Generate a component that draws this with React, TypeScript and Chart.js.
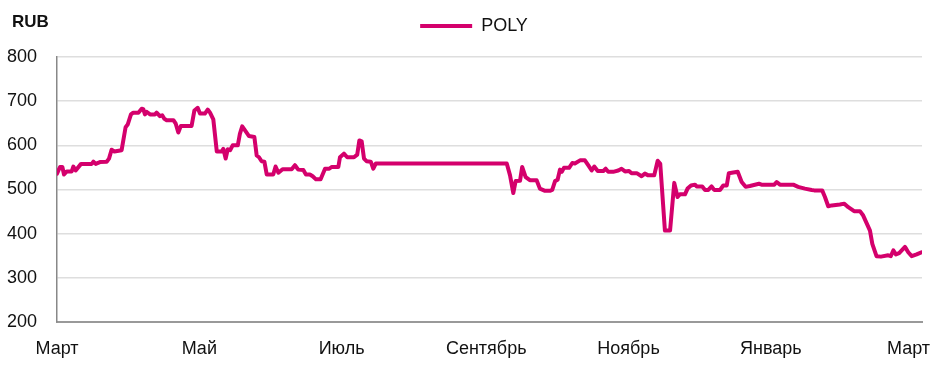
import React, { useEffect, useRef } from "react";
import { Chart, registerables } from "chart.js";

Chart.register(...registerables);

// days since 1 March
const days = [
  0, 1.3, 2.3, 3.0, 4.2, 6.3, 7.0, 8.0, 10.3, 14.9, 15.6, 16.6, 18.4, 21.3, 22.3, 23.4, 24.6, 27.7,
  29.4, 30.3, 31.7, 32.7, 34.9, 36.3, 37.0, 37.7, 38.4, 39.9, 42.0, 42.7, 44.1, 45.1, 46.0, 47.0,
  49.9, 50.9, 52.0, 53.1, 57.7, 58.9, 60.3, 61.3, 63.4, 64.6, 65.6, 67.0, 68.5, 70.6, 71.3, 72.3,
  73.2, 74.2, 75.3, 77.5, 78.4, 79.4, 80.6, 82.3, 84.6, 85.6, 86.6, 87.7, 88.9, 89.9, 92.7, 93.7,
  94.9, 96.7, 100.6, 102.0, 103.4, 105.6, 106.7, 108.4, 109.6, 111.0, 113.0, 114.9, 116.7, 117.7,
  120.6, 121.3, 123.0, 124.4, 127.3, 128.7, 129.6, 130.6, 131.6, 132.7, 134.5, 135.6, 136.7,
  192.8, 194.2, 195.6, 196.6, 198.5, 199.4, 200.9, 202.7, 205.6, 207.0, 209.2, 211.3, 212.3, 213.5,
  214.6, 215.6, 216.4, 217.3, 219.5, 220.9, 222.0, 224.2, 226.3, 227.7, 229.2, 230.3, 231.8, 234.2,
  235.2, 236.3, 238.4, 240.6, 242.0, 243.5, 245.2, 246.3, 248.5, 250.6, 252.0, 253.4, 256.0, 257.5,
  258.6, 260.6, 262.8, 264.6, 266.0, 267.0, 269.2, 270.3, 271.8, 273.5, 274.2, 276.6, 277.8, 279.2,
  280.6, 281.7, 284.2, 285.6, 287.1, 288.0, 291.8, 293.5, 295.2, 297.0, 300.9, 302.0, 307.5, 308.5,
  309.9, 315.6, 317.7, 320.6, 323.5, 324.6, 328.0, 329.2, 330.6, 332.1, 335.6, 337.5, 339.2, 341.7,
  344.2, 345.6, 348.5, 349.5, 351.3, 353.2, 356.3, 357.4, 358.5, 359.6, 361.0, 363.5, 364.9, 366.4,
  368.5, 370.6,
];

const prices = [
  536, 551, 551, 534, 541, 541, 552, 543, 558, 558, 563, 558, 562, 563, 570, 590, 586, 589,
  641, 647, 670, 674, 674, 683, 682, 670, 676, 670, 670, 674, 666, 668, 660, 657,
  657, 649, 629, 644, 644, 679, 685, 672, 672, 681, 674, 659, 586, 586, 592, 570,
  591, 589, 600, 600, 626, 643, 634, 621, 619, 577, 573, 564, 563, 534, 534, 552,
  538, 546, 546, 555, 545, 544, 534, 534, 530, 523, 523, 547, 547, 551,
  551, 573, 581, 573, 573, 579, 611, 609, 570, 564, 563, 547, 559,
  559, 532, 492, 519, 520, 551, 528, 521, 521, 502, 497, 497, 499, 519,
  522, 545, 540, 549, 549, 560, 559, 566, 566, 555, 543, 552, 542, 542,
  547, 540, 540, 543, 547, 541, 542, 537, 537, 530, 536, 532, 532, 565,
  558, 407, 407, 515, 483, 489, 489, 502, 509, 511, 507, 507, 499, 499,
  507, 499, 499, 509, 509, 537, 540, 517, 506, 508, 513, 511, 511, 517,
  511, 511, 506, 502, 499, 498, 498, 483, 462, 464, 466, 468, 460, 451,
  451, 441, 407, 377, 349, 348, 351, 349, 362, 353, 356, 370, 358, 349,
  353, 358,
];

const monthTicks = [0, 61, 122, 184, 245, 306, 365];
const monthLabels = ["Март", "Май", "Июль", "Сентябрь", "Ноябрь", "Январь", "Март"];
const yTicks = [200, 300, 400, 500, 600, 700, 800];

const FONT = "'Liberation Sans', Arial, sans-serif";
const LINE_COLOR = "#D4006C";

export default function App() {
  const ref = useRef<HTMLCanvasElement | null>(null);

  useEffect(() => {
    if (!ref.current) return;
    const rubPlugin = {
      id: "rubLabel",
      beforeInit(chart: any) {
        const legend = chart.legend;
        if (legend) {
          const origFit = legend.fit;
          legend.fit = function () {
            origFit.call(this);
            this.height += 12;
          };
        }
      },
      afterLayout(chart: any) {
        const legend = chart.legend;
        if (legend) {
          legend.left += 13;
          legend.right += 13;
        }
      },
      afterDraw(chart: any) {
        const ctx = chart.ctx;
        ctx.save();
        ctx.font = `bold 17px ${FONT}`;
        ctx.fillStyle = "#111";
        ctx.textBaseline = "alphabetic";
        ctx.textAlign = "left";
        ctx.fillText("RUB", 12, 27);
        ctx.restore();
      },
    };
    const chart = new Chart(ref.current, {
      type: "line",
      data: {
        datasets: [
          {
            label: "POLY",
            data: days.map((d, i) => ({ x: d, y: prices[i] })),
            borderColor: LINE_COLOR,
            backgroundColor: LINE_COLOR,
            borderWidth: 4,
            pointRadius: 0,
            tension: 0,
            borderJoinStyle: "round",
            borderCapStyle: "round",
          },
        ],
      },
      options: {
        animation: false,
        responsive: false,
        maintainAspectRatio: false,
        layout: { padding: { top: 7, right: 20, left: 0, bottom: 0 } },
        plugins: {
          legend: {
            position: "top",
            labels: {
              usePointStyle: true,
              pointStyle: "line",
              pointStyleWidth: 52,
              padding: 10,
              color: "#111",
              font: { family: FONT, size: 18 },
            },
          },
          tooltip: { enabled: false },
        },
        scales: {
          x: {
            type: "linear",
            min: 0,
            max: 370.8,
            grid: { display: false, drawTicks: false },
            border: { display: true, color: "#999", width: 2 },
            afterBuildTicks: (scale: any) => {
              scale.ticks = monthTicks.map((v) => ({ value: v }));
            },
            afterFit: (scale: any) => {
              scale.height = 50;
              scale.paddingLeft = 0;
              scale.paddingRight = 0;
            },
            ticks: {
              autoSkip: false,
              maxRotation: 0,
              padding: 16,
              color: "#111",
              font: { family: FONT, size: 18 },
              callback: (v: any) => {
                const i = monthTicks.indexOf(Number(v));
                return i >= 0 ? monthLabels[i] : "";
              },
            },
          },
          y: {
            min: 200,
            max: 800,
            afterBuildTicks: (scale: any) => {
              scale.ticks = yTicks.map((v) => ({ value: v }));
            },
            afterFit: (scale: any) => {
              scale.width = 57;
            },
            grid: { color: "#DEDEDE", lineWidth: 1.5, drawTicks: false },
            border: { display: true, color: "#888", width: 1.5 },
            ticks: {
              padding: 20,
              color: "#111",
              font: { family: FONT, size: 18 },
            },
          },
        },
      },
      plugins: [rubPlugin],
    } as any);
    return () => chart.destroy();
  }, []);

  return (
    <div style={{ position: "fixed", left: 0, top: 0, width: 942, height: 372, background: "#fff" }}>
      <canvas ref={ref} width={942} height={372} style={{ width: 942, height: 372, display: "block" }} />
    </div>
  );
}
